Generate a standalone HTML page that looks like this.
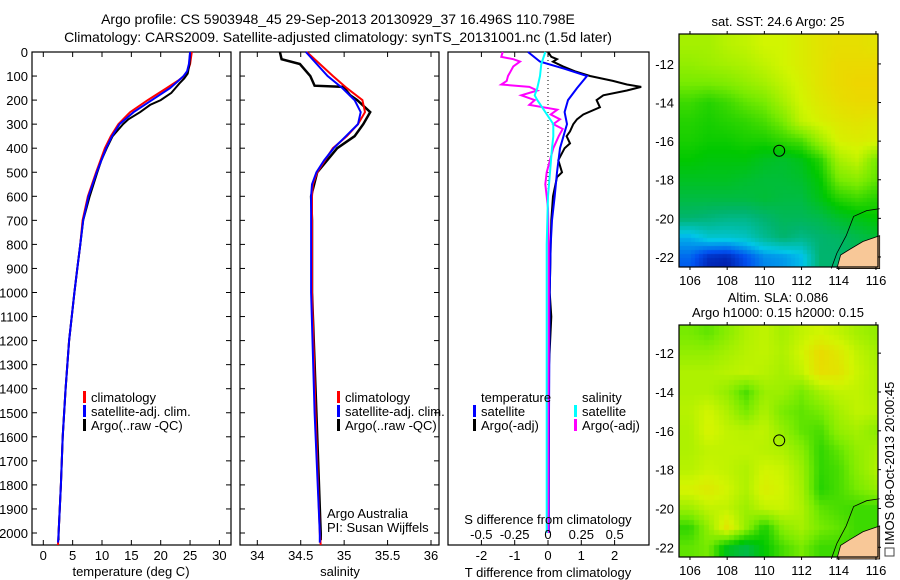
<!DOCTYPE html>
<html><head><meta charset="utf-8">
<style>
html,body{margin:0;padding:0;background:#fff;}
#wrap{position:relative;width:900px;height:580px;overflow:hidden;font-family:"Liberation Sans",sans-serif;}
canvas{position:absolute;}
svg{position:absolute;left:0;top:0;}
</style></head>
<body>
<div id="wrap">
<canvas id="mapTop" width="199" height="233" style="left:679px;top:34px"></canvas>
<canvas id="mapBot" width="199" height="232" style="left:679px;top:325px"></canvas>
<svg id="fig" width="900" height="580" xmlns="http://www.w3.org/2000/svg" font-family="Liberation Sans, sans-serif">
<text x="338" y="24" font-size="14" text-anchor="middle">Argo profile: CS 5903948_45 29-Sep-2013 20130929_37 16.496S 110.798E</text>
<text x="338" y="42" font-size="14" text-anchor="middle">Climatology: CARS2009. Satellite-adjusted climatology: synTS_20131001.nc (1.5d later)</text>
<g id="p1"></g>
<g id="p2"></g>
<g id="p3"></g>
<g id="maps"></g>
</svg>
</div>
<script>
// ---------- profile data ----------
const tempClimDepth = [0,50,80,100,120,150,200,250,300,350,400,500,600,700,800,900,1000,1200,1400,1600,1800,2000,2050];
const tempClim = [25.3,25.0,24.6,24.0,22.9,21.0,17.8,14.8,12.8,11.5,10.5,9.0,7.6,6.7,6.3,5.8,5.3,4.4,3.8,3.3,3.0,2.6,2.5];
const tempSatDepth = [0,50,80,100,120,150,200,250,300,350,400,500,600,700,800,900,1000,1200,1400,1600,1800,2000,2040];
const tempSat = [25.0,24.8,24.5,23.9,23.0,21.6,18.5,15.4,13.0,11.7,10.7,9.1,7.7,6.8,6.3,5.8,5.3,4.4,3.8,3.3,3.0,2.6,2.5];
const tempArgoDepth = [0,50,90,110,130,150,170,200,220,250,280,300,350,400,450,500,600,700,800,900,1000,1200,1400,1600,1800,2000,2030];
const tempArgo = [25.0,24.9,24.6,24.0,23.2,22.5,21.8,20.0,18.2,16.5,14.5,13.6,11.8,10.8,9.9,9.2,7.9,6.8,6.3,5.8,5.3,4.4,3.8,3.3,3.0,2.6,2.6];

const salClimDepth = [0,100,150,200,250,300,350,400,450,500,550,600,1000,1500,2000,2050];
const salClim = [34.57,34.87,35.03,35.21,35.24,35.16,35.03,34.87,34.78,34.69,34.64,34.63,34.63,34.67,34.72,34.73];
const salSatDepth = [0,100,150,200,250,300,350,400,450,500,550,600,1000,1500,2000,2040];
const salSat = [34.56,34.81,34.98,35.12,35.19,35.16,35.02,34.88,34.77,34.68,34.63,34.62,34.62,34.66,34.72,34.72];
const salArgoDepth = [0,30,50,100,140,145,180,200,250,300,350,400,500,600,700,1000,1500,2000,2030];
const salArgo = [34.26,34.28,34.49,34.61,34.66,34.99,35.07,35.15,35.30,35.22,35.12,34.92,34.69,34.62,34.63,34.63,34.68,34.73,34.73];

const dTSatDepth = [0,40,70,100,150,200,250,300,400,500,600,700,800,1000,1500,2000];
const dTSat = [-0.6,-0.24,0.5,1.17,0.87,0.6,0.5,0.57,0.36,0.27,0.2,0.12,0.08,0.05,0.03,0.02];
const dTArgoDepth = [0,20,30,40,60,80,100,120,135,145,160,180,200,230,260,280,300,330,350,380,400,450,500,520,600,700,800,1000,1100,1300,1600,2000];
const dTArgo = [0,0.1,0.27,0.15,0.45,0.8,1.26,1.95,2.37,2.8,2.37,1.66,1.46,1.56,1.06,0.87,0.76,0.66,0.56,0.66,0.5,0.31,0.42,0.27,0.15,0.1,0.08,0.05,0.1,0.03,0.02,0.0];
const dSSatDepth = [0,50,100,150,180,200,250,300,350,400,500,600,800,1200,2000];
const dSSat = [-0.02,-0.05,-0.06,-0.08,-0.1,-0.08,-0.02,0.04,0.04,0.03,0.015,0,-0.01,-0.01,-0.01];
const dSArgoDepth = [0,20,30,40,60,80,100,120,135,145,160,180,200,220,240,260,280,300,320,350,400,450,500,550,600,650,800,1200,2000];
const dSArgo = [-0.34,-0.35,-0.26,-0.21,-0.26,-0.28,-0.3,-0.31,-0.35,-0.14,-0.08,-0.2,-0.1,-0.14,0.07,0.02,0.09,0.04,0.11,0.08,0.04,0.015,-0.01,-0.02,-0.01,0,0.005,0.005,0];

const depthTicks = [0,100,200,300,400,500,600,700,800,900,1000,1100,1200,1300,1400,1500,1600,1700,1800,1900,2000];
const tempTicks = [0,5,10,15,20,25,30];
const salTicks = [34,34.5,35,35.5,36];
const dTTicks = [-2,-1,0,1,2];
const dSTickLabels = ["-0.5","-0.25","0","0.25","0.5"];
const dSTicks = [-0.5,-0.25,0,0.25,0.5];

// ---------- scales ----------
const TOP=52, BOT=545;
const yD = d => TOP + d*0.2405;
const xT = t => 43.3 + t*5.87;
const xS = s => 257.3 + (s-34)*86.85;
const xdT = v => 548 + v*33.3;
const xdS = v => 548 + v*133.3;

const NS="http://www.w3.org/2000/svg";
function mk(tag, attrs, parent, txt){
  const e=document.createElementNS(NS,tag);
  for(const k in attrs) e.setAttribute(k,attrs[k]);
  if(txt!==undefined) e.textContent=txt;
  parent.appendChild(e); return e;
}
function line(parent, depths, vals, fx, color, w, name){
  const pts = depths.map((d,i)=>fx(vals[i]).toFixed(1)+","+yD(d).toFixed(1)).join(" ");
  const p = mk("polyline",{points:pts,fill:"none",stroke:color,"stroke-width":w,"stroke-linejoin":"miter"},parent);
  
  
}
function frame(parent,x0,x1,name){
  const r = mk("rect",{x:x0,y:TOP,width:x1-x0,height:BOT-TOP,fill:"none",stroke:"#000","stroke-width":1.2},parent);
  
  
}
function yticks(parent,x0,x1,labels){
  depthTicks.forEach(d=>{
    const y=yD(d);
    mk("line",{x1:x0,y1:y,x2:x0+5,y2:y,stroke:"#000"},parent);
    mk("line",{x1:x1,y1:y,x2:x1-5,y2:y,stroke:"#000"},parent);
    if(labels){
      const t=mk("text",{x:28,y:y+5,"font-size":13,"text-anchor":"end"},parent,String(d));
      
      
    }
  });
}
function xticks(parent,ticks,fx,labels,ly){
  ticks.forEach((v,i)=>{
    const x=fx(v);
    mk("line",{x1:x,y1:TOP,x2:x,y2:TOP+5,stroke:"#000"},parent);
    mk("line",{x1:x,y1:BOT,x2:x,y2:BOT-5,stroke:"#000"},parent);
    const t=mk("text",{x:x,y:ly,"font-size":13,"text-anchor":"middle"},parent,labels[i]);
    
    
  });
}
function legend(parent,x,y,color,label){
  const b=mk("rect",{x:x,y:y-6,width:3,height:12,fill:color},parent);
  
  
  const t=mk("text",{x:x+8,y:y+5,"font-size":13},parent,label);
  
  
}

// panel 1
const p1=document.getElementById("p1");
frame(p1,32,231,"temperature-axes-frame");
yticks(p1,32,231,true);
xticks(p1,tempTicks,xT,tempTicks.map(String),560);
mk("text",{x:131,y:576,"font-size":13,"text-anchor":"middle",},p1,"temperature (deg C)");
line(p1,tempClimDepth,tempClim,xT,"#ff0000",2,"temperature-climatology-line");
line(p1,tempArgoDepth,tempArgo,xT,"#000",2,"temperature-argo-line");
line(p1,tempSatDepth,tempSat,xT,"#0000ff",2,"temperature-satellite-line");
legend(p1,83,397,"#ff0000","climatology");
legend(p1,83,411,"#0000ff","satellite-adj. clim.");
legend(p1,83,425,"#000","Argo(..raw -QC)");

// panel 2
const p2=document.getElementById("p2");
frame(p2,240,439,"salinity-axes-frame");
yticks(p2,240,439,false);
xticks(p2,salTicks,xS,salTicks.map(String),560);
mk("text",{x:340,y:576,"font-size":13,"text-anchor":"middle",},p2,"salinity");
line(p2,salArgoDepth,salArgo,xS,"#000",2.5,"salinity-argo-line");
line(p2,salClimDepth,salClim,xS,"#ff0000",2,"salinity-climatology-line");
line(p2,salSatDepth,salSat,xS,"#0000ff",2,"salinity-satellite-line");
legend(p2,337,397,"#ff0000","climatology");
legend(p2,337,411,"#0000ff","satellite-adj. clim.");
legend(p2,337,425,"#000","Argo(..raw -QC)");
mk("text",{x:327,y:518,"font-size":13,},p2,"Argo Australia");
mk("text",{x:327,y:532,"font-size":13,},p2,"PI: Susan Wijffels");

// panel 3
const p3=document.getElementById("p3");
frame(p3,448,649,"difference-axes-frame");
xticks(p3,dTTicks,xdT,dTTicks.map(String),560);
mk("line",{x1:548,y1:TOP,x2:548,y2:yD(700),stroke:"#000","stroke-dasharray":"1,3",},p3);
mk("text",{x:548,y:577,"font-size":13,"text-anchor":"middle",},p3,"T difference from climatology");
line(p3,dTArgoDepth,dTArgo,xdT,"#000",2,"t-diff-argo-line");
line(p3,dTSatDepth,dTSat,xdT,"#0000ff",2,"t-diff-satellite-line");
line(p3,dSArgoDepth,dSArgo,xdS,"#ff00ff",2,"s-diff-argo-line");
line(p3,dSSatDepth,dSSat,xdS,"#00ffff",2,"s-diff-satellite-line");
mk("text",{x:548,y:524,"font-size":13,"text-anchor":"middle",},p3,"S difference from climatology");
dSTicks.forEach((v,i)=>{
  const t=mk("text",{x:xdS(v),y:539,"font-size":13,"text-anchor":"middle"},p3,dSTickLabels[i]);
  
  
});
mk("text",{x:481,y:402,"font-size":13,},p3,"temperature");
mk("text",{x:582,y:402,"font-size":13,},p3,"salinity");
legend(p3,473,411,"#0000ff","satellite");
legend(p3,473,425,"#000","Argo(-adj)");
legend(p3,574,411,"#00ffff","satellite");
legend(p3,574,425,"#ff00ff","Argo(-adj)");

// ---------- maps ----------
const sstGrid = [
[5.5,5.5,5.7,5.8,6,6,6.2,6.4,6.5,6.5,6.4],
[5.3,5.4,5.5,5.6,5.8,6,6.2,6.4,6.6,6.6,6.6],
[5.0,5.0,5.1,5.3,5.5,5.8,6.1,6.4,6.6,6.7,6.7],
[4.5,4.3,4.5,4.8,5.0,5.5,6.0,6.3,6.5,6.6,6.6],
[4.3,4.2,4.3,4.4,4.6,5.0,5.8,6.1,6.3,6.4,6.3],
[4.2,4.1,4.1,4.2,4.2,4.4,4.6,5.4,6.1,6.2,6.1],
[4.0,3.9,3.9,3.9,3.7,3.6,3.8,4.3,5.5,5.8,5.0],
[3.7,3.7,3.7,3.6,3.5,3.5,3.6,4.0,5.0,5.2,4.8],
[3.4,3.4,3.4,3.4,3.5,3.4,3.4,3.8,4.3,4.5,4.3],
[3.0,2.9,2.8,2.8,3.0,3.2,3.2,3.3,3.6,3.8,4.0],
[1.8,2.2,2.2,2.3,2.7,3.0,2.8,3.0,3.1,3.3,3.5],
[1.2,0.6,0.5,1.0,1.5,1.6,1.9,3.0,3.0,3.2,3.4],
[1.0,0.4,0.3,0.9,1.4,1.6,1.9,3.0,3.0,3.2,3.4]];
const slaGrid = [
[5.0,4.8,5.2,5.6,5.8,5.5,5.8,6.0,5.8,5.5,5.3],
[5.3,5.3,5.5,5.7,5.8,5.6,6.0,6.6,6.3,5.8,5.5],
[5.6,5.6,5.7,5.8,5.7,5.5,5.8,6.5,6.4,5.9,5.6],
[5.6,5.6,5.3,4.6,5.4,5.4,5.0,5.5,5.8,5.8,5.6],
[5.7,6.0,5.6,5.0,5.6,5.0,4.8,5.0,5.5,5.8,5.7],
[5.6,6.1,5.8,5.7,5.8,5.3,4.8,4.6,5.3,5.5,5.2],
[5.6,5.8,5.8,5.8,5.7,5.6,5.2,4.4,4.8,5.3,5.5],
[5.7,5.9,5.8,5.6,6.0,5.9,5.4,4.4,4.6,5.2,5.6],
[6.1,6.3,6.0,5.6,6.2,6.0,5.5,4.3,4.6,5.0,5.3],
[5.4,5.8,5.8,5.4,5.8,5.9,5.6,4.8,4.6,4.5,4.5],
[4.4,5.3,6.4,5.3,4.2,5.2,5.5,5.0,4.8,4.5,4.5],
[4.8,5.0,3.8,3.4,4.0,4.6,5.0,4.5,4.5,4.5,4.5],
[4.8,5.0,3.6,3.2,4.0,4.6,5.0,4.5,4.5,4.5,4.5]];
const gridLon0=106, gridLat0=-11;
const lonTicks=[106,108,110,112,114,116];
const latTicks=[-12,-14,-16,-18,-20,-22];
const argoLon=110.798, argoLat=-16.496;

const stops=[[0,0,127],[0,80,240],[0,200,232],[0,180,110],[0,200,0],[120,235,0],[210,245,0],[250,200,0]];
function cmap(v){
  v=Math.max(0,Math.min(7,v)); const i=Math.min(6,Math.floor(v)), f=v-i;
  return stops[i].map((c,k)=>Math.round(c+(stops[i+1][k]-c)*f));
}
function drawMap(id,grid,lonL,lonR,latT,latB,cell){
  const cv=document.getElementById(id), ctx=cv.getContext("2d");
  const W=cv.width,H=cv.height;
  for(let py=0;py<H;py+=cell){for(let px=0;px<W;px+=cell){
    const lon=lonL+(px+cell/2)/W*(lonR-lonL), lat=latT+(py+cell/2)/H*(latB-latT);
    let gx=Math.max(0,Math.min(10,lon-gridLon0)), gy=Math.max(0,Math.min(12,gridLat0-lat));
    const x0=Math.min(9,Math.floor(gx)), y0=Math.min(11,Math.floor(gy)), fx=gx-x0, fy=gy-y0;
    const v=grid[y0][x0]*(1-fx)*(1-fy)+grid[y0][x0+1]*fx*(1-fy)+grid[y0+1][x0]*(1-fx)*fy+grid[y0+1][x0+1]*fx*fy;
    const c=cmap(v); ctx.fillStyle="rgb("+c.join(",")+")"; ctx.fillRect(px,py,cell,cell);
  }}
}
drawMap("mapTop",sstGrid,105.41,116.11,-10.45,-22.52,4);
drawMap("mapBot",slaGrid,105.41,116.11,-10.55,-22.5,5);

const maps=document.getElementById("maps");
function mapOverlay(top,bot,latT,latB,name){
  const L=679,R=878;
  const fx=lon=>L+(lon-105.41)/(116.11-105.41)*(R-L);
  const fy=lat=>top+(latT-lat)/(latT-latB)*(bot-top);
  const land=mk("polygon",{points:[[113.9,-22.6],[114.1,-21.9],[114.6,-21.6],[115.3,-21.2],[116.2,-20.9],[116.2,-22.6]].map(p=>fx(p[0])+","+fy(p[1])).join(" "),fill:"#f8c898",stroke:"#000","stroke-width":0.8},maps);
  
  
  const coast=mk("polyline",{points:[[113.6,-22.6],[113.9,-21.8],[114.4,-20.9],[114.8,-19.9],[115.5,-19.6],[116.2,-19.5]].map(p=>fx(p[0])+","+fy(p[1])).join(" "),fill:"none",stroke:"#000","stroke-width":0.8},maps);
  
  
  const fr=mk("rect",{x:L,y:top,width:R-L,height:bot-top,fill:"none",stroke:"#000","stroke-width":1.2},maps);
  
  
  lonTicks.forEach(v=>{
    const x=fx(v);
    mk("line",{x1:x,y1:top,x2:x,y2:top-3,stroke:"#000"},maps);
    mk("line",{x1:x,y1:bot,x2:x,y2:bot+3,stroke:"#000"},maps);
    const t=mk("text",{x:x,y:bot+18,"font-size":13,"text-anchor":"middle"},maps,String(v));
    
    
  });
  latTicks.forEach(v=>{
    const y=fy(v);
    mk("line",{x1:R,y1:y,x2:R+3,y2:y,stroke:"#000"},maps);
    const t=mk("text",{x:674,y:y+5,"font-size":13,"text-anchor":"end"},maps,String(v));
    
    
  });
  const c=mk("circle",{cx:fx(argoLon),cy:fy(argoLat),r:5.5,fill:"none",stroke:"#000","stroke-width":1},maps);
  
  
}
mapOverlay(34,267,-10.45,-22.52,"sst-map");
mapOverlay(325,557,-10.55,-22.5,"sla-map");
mk("text",{x:778,y:26,"font-size":13,"text-anchor":"middle",},maps,"sat. SST: 24.6 Argo: 25");
mk("text",{x:778,y:302,"font-size":13,"text-anchor":"middle",},maps,"Altim. SLA: 0.086");
mk("text",{x:778,y:317,"font-size":13,"text-anchor":"middle",},maps,"Argo h1000: 0.15 h2000: 0.15");
mk("rect",{x:885,y:548,width:9,height:8,fill:"none",stroke:"#444","stroke-width":1,},maps);
mk("text",{x:894,y:545,"font-size":13,transform:"rotate(-90 894 545)",},maps,"IMOS 08-Oct-2013 20:00:45");
</script>
</body></html>
